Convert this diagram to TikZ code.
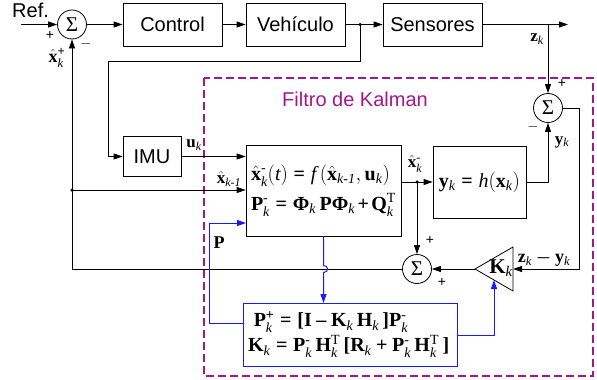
\documentclass[tikz,border=0pt]{standalone}
\usepackage{amsmath}
\usepackage{fontspec}
\setmainfont{Liberation Serif}
\setsansfont{Liberation Sans}
\usetikzlibrary{arrows.meta}
\definecolor{kal}{RGB}{165,20,140}
\definecolor{bl}{RGB}{25,25,255}
\newcommand\Eq{\mathrel{\textbf{=}}}
\newcommand\Pl{\mathbin{\textbf{+}}}
\newcommand\Mi{\mathbin{\textbf{--}}}
\newcommand\ki{\mathit{k}}
\newcommand\xh{\hat{\mathbf{x}}}
\newcommand\sm{\text{-}}
\newcommand\bplus{\text{\bfseries +}}
\tikzset{
  blk/.style={draw, line width=0.8pt, font=\sffamily\fontsize{20}{24}\selectfont, inner sep=0pt},
  eqbox/.style={draw, line width=0.8pt, font=\fontsize{20}{30}\selectfont, align=left, inner xsep=5pt, inner ysep=0pt},
  sumc/.style={draw, line width=0.8pt, circle, minimum size=29pt, inner sep=0pt, font=\fontsize{21}{24}\selectfont},
  arr/.style={line width=0.8pt, -{Triangle[length=9pt,width=6pt]}},
  ln/.style={line width=0.8pt},
  barr/.style={bl, line width=1pt, -{Triangle[length=9pt,width=6pt]}},
  bln/.style={bl, line width=1pt},
  lab/.style={font=\fontsize{17}{20}\selectfont, inner sep=0pt},
  sgn/.style={font=\sffamily\fontsize{14}{16}\selectfont, inner sep=0pt},
  dot/.style={circle, fill, inner sep=0pt, minimum size=3.5pt}
}
\begin{document}
\begin{tikzpicture}[x=1pt,y=-1pt]
\useasboundingbox (0,0) rectangle (597,380);
% Kalman frame
\draw[kal, line width=1.6pt, dash pattern=on 8pt off 4pt] (204,78) rectangle (593,376);
\node[text=kal, font=\sffamily\fontsize{20}{24}\selectfont] (kt) at (355,99) {Filtro de Kalman};

% blocks
\node[sumc] (s1) at (72,24.5) {Σ};
\node[blk, minimum width=99pt, minimum height=43pt] (ctrl) at (172.5,24.5) {Control};
\node[blk, minimum width=99pt, minimum height=43pt] (veh) at (295.5,24.5) {Vehículo};
\node[blk, minimum width=99pt, minimum height=43pt] (sens) at (432.5,24.5) {Sensores};
\node[blk, minimum width=58pt, minimum height=40pt] (imu) at (152,156.5) {IMU};
\node[eqbox, text width=145pt, minimum height=91pt] (fb) at (323.5,190.5)
  {$\xh^{\sm}_{\ki}(\mathit{t})\Eq\mathit{f}\,(\xh_{\text{\itshape k-1}},\mathbf{u}_{\ki})$\\
   $\mathbf{P}^{\sm}_{\ki}\Eq\text{\bfseries Φ}_{\ki}\,\mathbf{P}\text{\bfseries Φ}_{\ki}\Pl\mathbf{Q}^{\mathrm{T}}_{\ki}$};
\node[eqbox, minimum width=93pt, minimum height=72pt, align=center] (hb) at (479.5,182)
  {$\mathbf{y}_{\ki}\Eq\mathit{h}(\mathbf{x}_{\ki})$};
\node[eqbox, draw=bl, line width=1pt, text width=204pt, minimum height=63pt, font=\fontsize{20}{25}\selectfont] (pb) at (350,334.5)
  {$\;\mathbf{P}^{\bplus}_{\ki}\Eq\textbf{[}\mathbf{I}\Mi\mathbf{K}_{\ki}\,\mathbf{H}_{\ki}\,\textbf{]}\mathbf{P}^{\sm}_{\ki}$\\
   $\mathbf{K}_{\ki}\Eq\mathbf{P}^{\sm}_{\ki}\,\mathbf{H}^{\mathrm{T}}_{\ki}\,\textbf{[}\mathbf{R}_{\ki}\Pl\mathbf{P}^{\sm}_{\ki}\,\mathbf{H}^{\mathrm{T}}_{\ki}\,\textbf{]}$};
\node[sumc] (s2) at (548,108) {Σ};
\node[sumc] (s3) at (417,269) {Σ};

% gain triangle
\coordinate (ktip) at (475,269);
\coordinate (ktop) at (513,247);
\coordinate (kbr) at (513,291);
\coordinate (kright) at (513,269);
\coordinate (kbot) at (494,280);
\draw[ln] (ktip) -- (ktop) -- (kbr) -- cycle;
\node[font=\fontsize{21}{24}\selectfont, inner sep=0pt] (kl) at (501,268) {$\mathbf{K}_{\ki}$};

% junctions
\node[dot] (j1) at (360,24.5) {};
\node[dot] (j2) at (72,190) {};
\node[dot] (j3) at (417,182) {};
\coordinate (zend) at (568,24.5);
\coordinate (zj) at (548,24.5);
\coordinate (cin) at (21,24.5);

% main forward path
\draw[arr] (cin) -- (s1.west);
\draw[arr] (s1.east) -- (ctrl.west);
\draw[arr] (ctrl.east) -- (veh.west);
\draw[arr] (veh.east) -- (sens.west);
\draw[arr] (sens.east) -- (zend);
\draw[arr] (zj) -- (s2.north);
% IMU path
\draw[arr] (j1.center) -- (360,61) -- (108,61) -- (108,156.5) -- (imu.west);
\draw[arr] (imu.east) -- (imu.east -| fb.west);
% previous estimate
\draw[arr] (j2.center) -- (j2 -| fb.west);
% feedback to reference
\draw[arr] (s3.west) -- (72,269) -- (s1.south);
% prediction out
\draw[arr] (j3 -| fb.east) -- (j3 -| hb.west);
\draw[arr] (j3.center) -- (s3.north);
\draw[arr] (hb.east) -- (hb.east -| s2) -- (s2.south);
\draw[arr] (s2.east) -- (579,108) -- (579,269) -- (kright);
\draw[arr] (ktip) -- (s3.east);

% blue covariance paths
\draw[barr] (fb.south) -- (323.5,265.5) .. controls (329,265.5) and (329,272.5) .. (323.5,272.5) -- (323.5,303);
\draw[barr] (243,323) -- (209,323) -- (209,223) -- (246,223);
\draw[barr] (457,335) -- (494,335) -- (kbot);

% labels
\node[lab, anchor=south west] (lref) at (12,18) {\sffamily\fontsize{20}{24}\selectfont Ref.};
\node[sgn] (p1) at (50,35) {+};
\node[sgn] (m1) at (86,44) {$-$};
\node[lab, font=\fontsize{18}{20}\selectfont] (lxp) at (57,58) {$\xh^{\bplus}_{\ki}$};
\node[lab] (lu) at (194,145) {$\mathbf{u}_{\ki}$};
\node[lab] (lxk) at (229,179) {$\xh_{\text{\itshape k-1}}$};
\node[lab, font=\fontsize{18}{20}\selectfont] (lP) at (219,243) {$\mathbf{P}$};
\node[lab] (lxm) at (415,164) {$\xh^{\sm}_{\ki}$};
\node[sgn] (p3a) at (430,240) {+};
\node[sgn] (p3b) at (442,282) {+};
\node[lab] (lz) at (537,39) {$\mathbf{z}_{\ki}$};
\node[sgn] (p2) at (562,83) {+};
\node[sgn] (m2) at (533,127) {$-$};
\node[lab] (ly) at (562,142) {$\mathbf{y}_{\ki}$};
\node[lab, font=\fontsize{18}{20}\selectfont] (lzy) at (544,259) {$\mathbf{z}_{\ki}\boldsymbol{-}\mathbf{y}_{\ki}$};
\end{tikzpicture}
\end{document}
